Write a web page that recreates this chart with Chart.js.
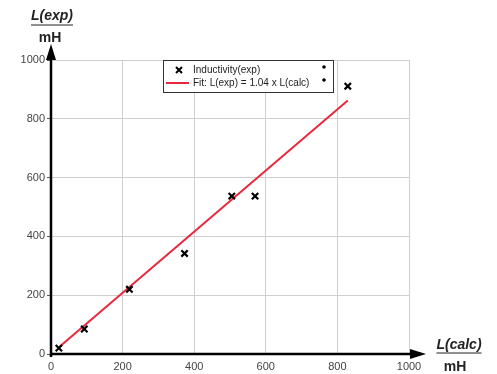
<!DOCTYPE html>
<html>
<head>
<meta charset="utf-8">
<script src="https://cdn.jsdelivr.net/npm/chart.js@4"></script>
<style>
  html, body { margin: 0; padding: 0; background: #fff; }
  #wrap { width: 497px; height: 374px; }
</style>
</head>
<body>
<div id="wrap"><canvas id="indChart" width="497" height="374"></canvas></div>
<script>
// measured inductances (mH)
const lCalc = [22, 93, 219, 373, 505, 570, 829];
const lExp  = [20, 85, 220, 342, 537, 537, 911];
// fitted proportional factor and the x range of the fit line
const fitSlope = 1.04;
const fitRange = [22, 829];
const tickValues = [0, 200, 400, 600, 800, 1000];

const seriesLabel = 'Inductivity(exp)';
const fitLabel = 'Fit: L(exp) = 1.04 x L(calc)';

const points = lCalc.map((x, i) => ({ x: x, y: lExp[i] }));
const fitLine = fitRange.map(x => ({ x: x, y: fitSlope * x }));

const FONT = 'Liberation Sans, Arial, sans-serif';

// axes with arrows, axis titles and the boxed legend
const decorPlugin = {
  id: 'decor',
  afterDraw(chart) {
    const c = chart.ctx;
    const xs = chart.scales.x, ys = chart.scales.y;
    const x0 = xs.getPixelForValue(0), y0 = ys.getPixelForValue(0);
    c.save();
    c.strokeStyle = '#000';
    c.fillStyle = '#000';
    c.lineWidth = 2.5;
    // x axis
    c.beginPath();
    c.moveTo(x0 - 1, y0);
    c.lineTo(415, y0);
    c.stroke();
    c.beginPath();
    c.moveTo(426, y0);
    c.lineTo(410, y0 - 5);
    c.lineTo(410, y0 + 5);
    c.closePath();
    c.fill();
    // y axis
    c.beginPath();
    c.moveTo(x0, y0 + 3);
    c.lineTo(x0, 56);
    c.stroke();
    c.beginPath();
    c.moveTo(x0, 44);
    c.lineTo(x0 - 5, 60);
    c.lineTo(x0 + 5, 60);
    c.closePath();
    c.fill();

    // axis titles
    c.fillStyle = '#222';
    c.strokeStyle = '#222';
    c.lineWidth = 1.2;
    c.textAlign = 'center';
    c.textBaseline = 'alphabetic';
    c.font = 'italic bold 14px ' + FONT;
    c.fillText('L(exp)', 52, 20);
    let w = c.measureText('L(exp)').width;
    c.beginPath(); c.moveTo(52 - w / 2, 25); c.lineTo(52 + w / 2, 25); c.stroke();
    c.font = 'bold 14px ' + FONT;
    c.fillText('mH', 50, 42);

    c.font = 'italic bold 14px ' + FONT;
    c.fillText('L(calc)', 459, 349);
    w = c.measureText('L(calc)').width;
    c.beginPath(); c.moveTo(459 - w / 2, 353); c.lineTo(459 + w / 2, 353); c.stroke();
    c.font = 'bold 14px ' + FONT;
    c.fillText('mH', 455, 371);

    // legend box
    const bx = 163.5, by = 60.5, bw = 170, bh = 32;
    c.fillStyle = '#fff';
    c.fillRect(bx, by, bw, bh);
    c.strokeStyle = '#333';
    c.lineWidth = 1;
    c.strokeRect(bx, by, bw, bh);
    // cross marker
    c.strokeStyle = '#000';
    c.lineWidth = 2;
    c.beginPath();
    c.moveTo(176, 67); c.lineTo(182, 73);
    c.moveTo(182, 67); c.lineTo(176, 73);
    c.stroke();
    // red line marker
    c.strokeStyle = '#e8283c';
    c.lineWidth = 2;
    c.beginPath(); c.moveTo(166, 83); c.lineTo(189, 83); c.stroke();
    c.fillStyle = '#222';
    c.textAlign = 'left';
    c.textBaseline = 'middle';
    c.font = '10px ' + FONT;
    c.fillText(seriesLabel, 193, 70);
    c.fillText(fitLabel, 193, 83);
    c.fillStyle = '#000';
    c.beginPath(); c.arc(324, 67, 1.8, 0, Math.PI * 2); c.fill();
    c.beginPath(); c.arc(324, 80, 1.8, 0, Math.PI * 2); c.fill();
    c.restore();
  }
};

const ctx = document.getElementById('indChart').getContext('2d');

let chart = new Chart(ctx, {
  type: 'scatter',
  data: {
    datasets: [{
      label: fitLabel,
      data: fitLine,
      type: 'line',
      showLine: true,
      borderColor: '#e8283c',
      borderWidth: 2,
      pointRadius: 0,
      fill: false,
      order: 2
    }, {
      label: seriesLabel,
      data: points,
      pointStyle: 'crossRot',
      pointRadius: 4.5,
      borderColor: '#000',
      borderWidth: 2.2,
      backgroundColor: '#000',
      order: 1
    }]
  },
  plugins: [decorPlugin],
  options: {
    responsive: false,
    animation: false,
    layout: { padding: { left: 0, right: 88, top: 60, bottom: 0 } },
    plugins: {
      legend: { display: false },
      tooltip: { enabled: false }
    },
    scales: {
      x: {
        type: 'linear',
        min: 0, max: 1000,
        afterBuildTicks: (s) => { s.ticks = tickValues.map(v => ({ value: v })); },
        afterFit: (s) => { s.height = 20; },
        border: { display: false },
        grid: { color: '#cfcfcf', lineWidth: 1, drawTicks: false },
        ticks: {
          color: '#444', font: { family: FONT, size: 11 }, padding: 6, maxRotation: 0,
          callback: (v) => String(v)
        }
      },
      y: {
        type: 'linear',
        min: 0, max: 1000,
        afterBuildTicks: (s) => { s.ticks = tickValues.map(v => ({ value: v })); },
        afterFit: (s) => { s.width = 51; },
        border: { display: false },
        grid: { color: '#cfcfcf', lineWidth: 1, tickLength: 4, tickColor: '#555' },
        ticks: {
          color: '#444', font: { family: FONT, size: 11 }, padding: 2,
          callback: (v) => String(v)
        }
      }
    }
  }
});
</script>
</body>
</html>
